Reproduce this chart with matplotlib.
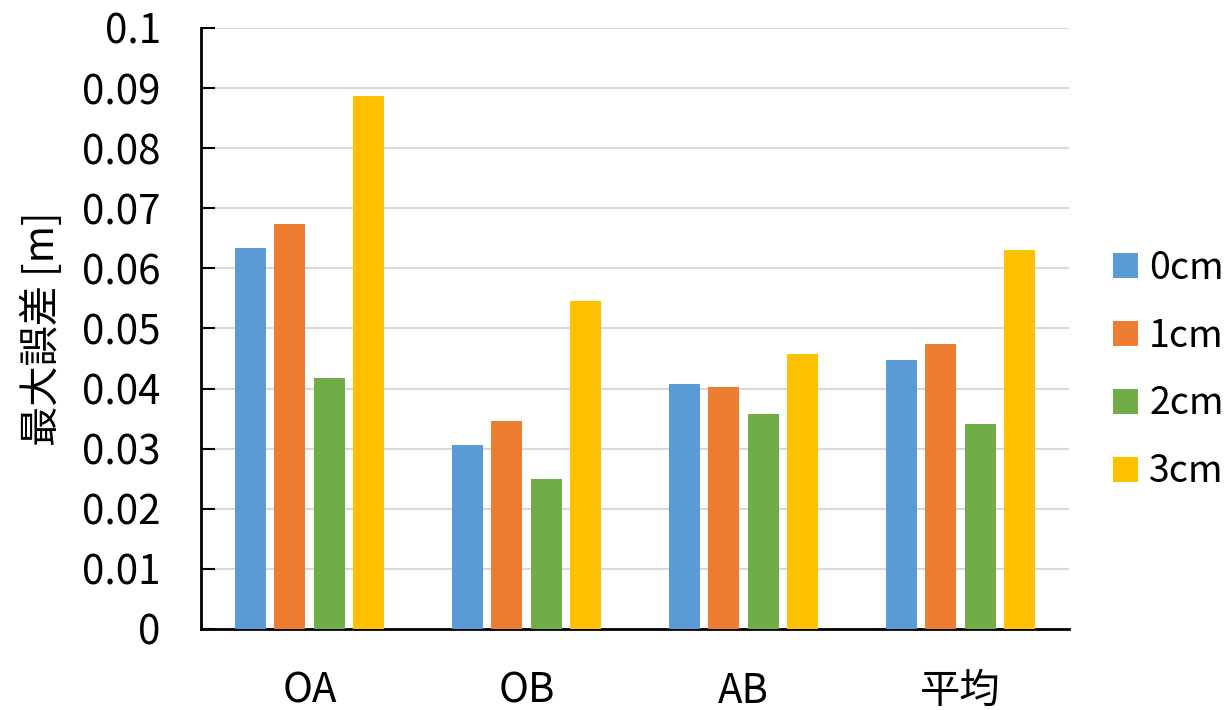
import numpy as np
import matplotlib
matplotlib.use("Agg")
import matplotlib.pyplot as plt

plt.rcParams['font.family'] = ['Noto Sans CJK JP', 'DejaVu Sans']

categories = ['OA', 'OB', 'AB', '平均']
series = ['0cm', '1cm', '2cm', '3cm']
values = {
    '0cm': [0.0634, 0.0306, 0.0407, 0.0448],
    '1cm': [0.0674, 0.0346, 0.0402, 0.0474],
    '2cm': [0.0418, 0.0250, 0.0358, 0.0341],
    '3cm': [0.0887, 0.0545, 0.0457, 0.0630],
}
colors = ['#5B9BD5', '#ED7D31', '#70AD47', '#FFC000']
yticks = [0, 0.01, 0.02, 0.03, 0.04, 0.05, 0.06, 0.07, 0.08, 0.09, 0.1]
ytick_labels = ['0', '0.01', '0.02', '0.03', '0.04', '0.05', '0.06', '0.07', '0.08', '0.09', '0.1']

fig = plt.figure(figsize=(12.3, 7.1), dpi=100)
ax = fig.add_axes([0.1634, 0.1141, 0.7057, 0.8465])

x = np.arange(len(categories))
width = 0.143
step = 0.182
for i, (name, c) in enumerate(zip(series, colors)):
    ax.bar(x + (i - 1.5) * step, values[name], width, color=c, label=name, zorder=3)

ax.set_xlim(-0.5, len(categories) - 0.5)
ax.set_ylim(0, 0.1)
ax.set_yticks(yticks)
ax.set_yticklabels(ytick_labels)
ax.set_xticks(x)
ax.set_xticklabels(categories)

ax.grid(axis='y', color='#D9D9D9', linewidth=1.5, zorder=0)
for s in ['top', 'right']:
    ax.spines[s].set_visible(False)
for s in ['left', 'bottom']:
    ax.spines[s].set_linewidth(2)
    ax.spines[s].set_color('black')

ax.tick_params(axis='y', direction='in', length=10, width=1.5, pad=29, labelsize=29)
ax.tick_params(axis='x', length=0, pad=30, labelsize=29)
ax.set_ylabel('最大誤差 [m]', fontsize=29, labelpad=14)

# legend sits right of the plot, a little below its middle
ax.legend(loc='center left', bbox_to_anchor=(1.021, 0.431), frameon=False, fontsize=27,
          handlelength=0.65, handleheight=0.65, labelspacing=0.77, handletextpad=0.3,
          borderaxespad=0.3)

fig.savefig('out.png', dpi=100)
